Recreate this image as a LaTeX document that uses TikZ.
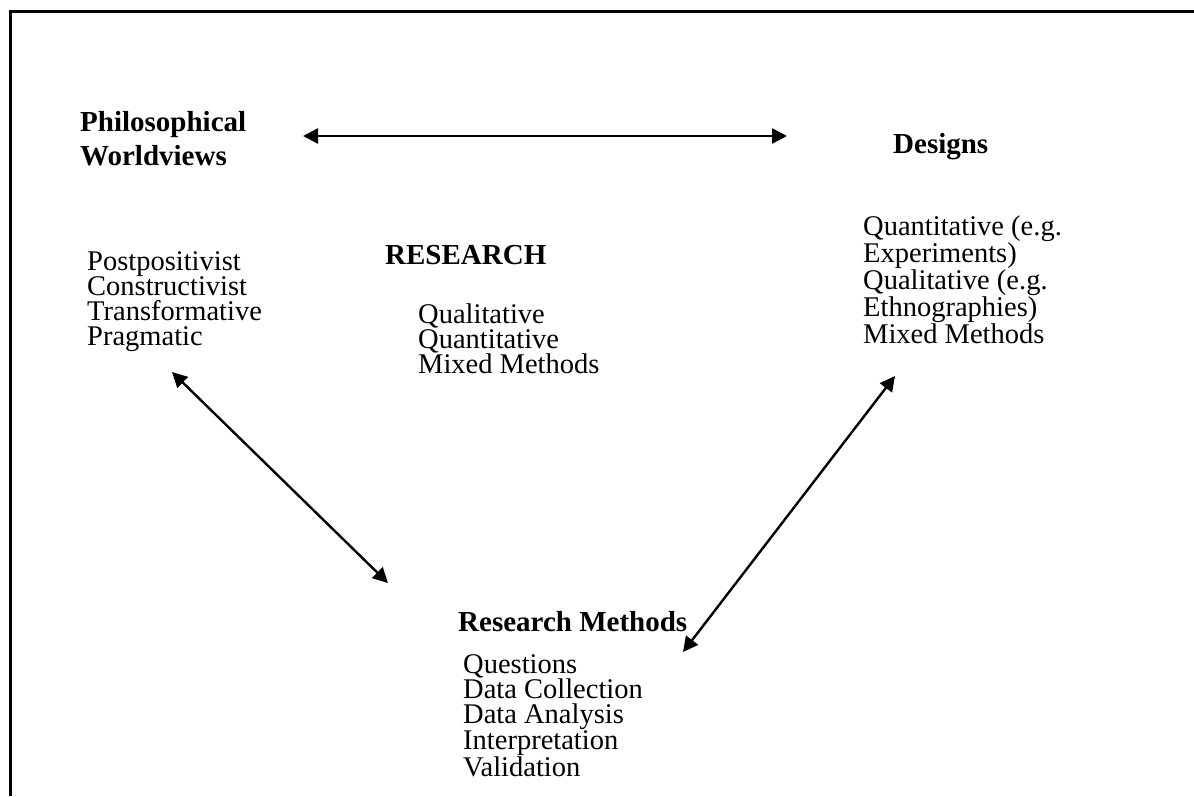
\documentclass[tikz,border=0pt]{standalone}
\usepackage{fontspec}
\setmainfont{Liberation Serif}
\usetikzlibrary{arrows.meta}
\begin{document}
\begin{tikzpicture}[x=1pt,y=-1pt]
        \tikzset{head/.style = {anchor=base west,inner sep=0pt,align=left,font=\fontsize{29}{34}\selectfont\bfseries}}
        \tikzset{items/.style = {anchor=base west,inner sep=0pt,align=left,font=\fontsize{28.5}{25}\selectfont}}
        \tikzset{link/.style = {{Triangle[length=15pt,width=15pt]}-{Triangle[length=15pt,width=15pt]},line width=2.4pt}}
        \useasboundingbox (0,0) rectangle (1194,796);
        % frame
        \draw[line width=3pt] (10,796) -- (10,11) -- (1194,11);
        % headings
        \node[head] (phil) at (80,165)  {Philosophical\\Worldviews};
        \node[head] (des)  at (893,153) {Designs};
        \node[head] (res)  at (385,264) {RESEARCH};
        \node[head] (meth) at (458,631) {Research Methods};
        % lists
        \node[items] (views) at (87,345)  {Postpositivist\\Constructivist\\Transformative\\Pragmatic};
        \node[items] (kinds) at (418,373) {Qualitative\\Quantitative\\Mixed Methods};
        \node[items] (types) at (863,343) {Quantitative (e.g.\\Experiments)\\Qualitative (e.g.\\Ethnographies)\\Mixed Methods};
        \node[items] (steps) at (463,776) {Questions\\Data Collection\\Data Analysis\\Interpretation\\Validation};
        % arrow ends
        \coordinate (a1) at (303,136);
        \coordinate (a2) at (787,136);
        \coordinate (b1) at (172,372);
        \coordinate (b2) at (388,583);
        \coordinate (c1) at (895,376);
        \coordinate (c2) at (683,652);
        %edges
        \draw[link] (a1) -- (a2);
        \draw[link] (b1) -- (b2);
        \draw[link] (c1) -- (c2);
\end{tikzpicture}
\end{document}
